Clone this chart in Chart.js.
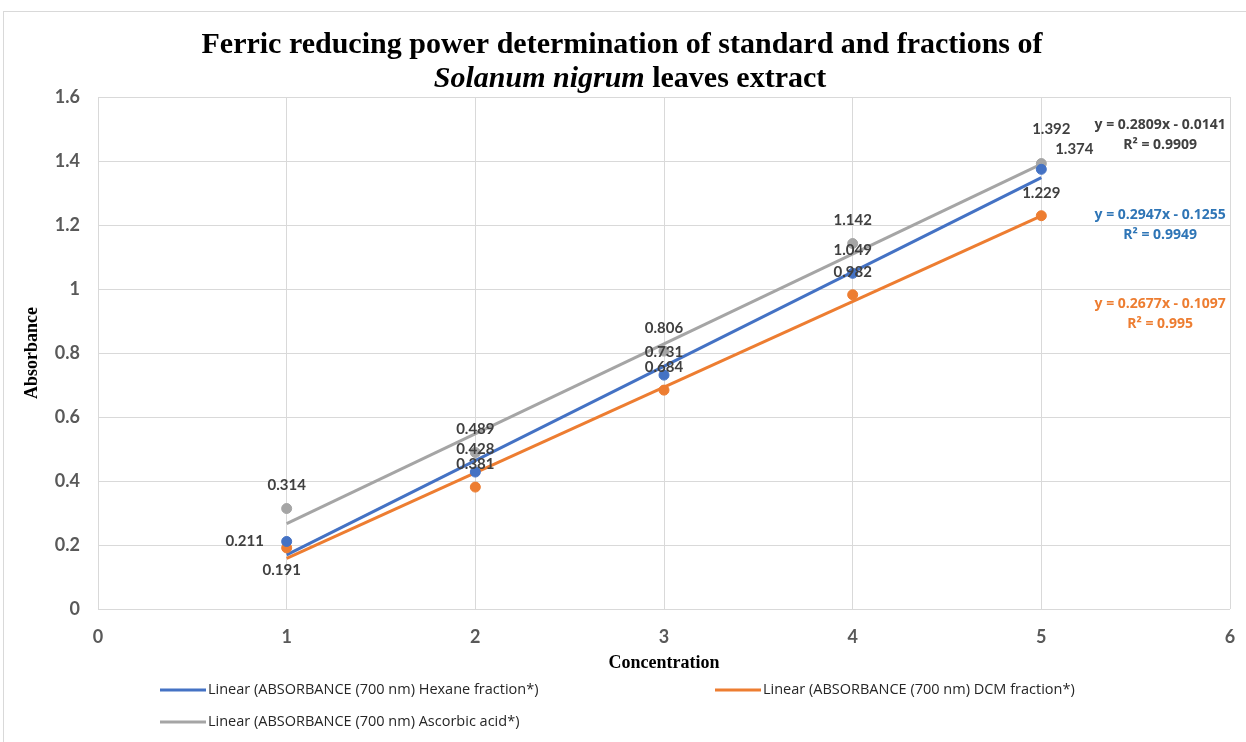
<!DOCTYPE html>
<html>
<head>
<meta charset="utf-8">
<script src="https://cdn.jsdelivr.net/npm/chart.js@4.4.1/dist/chart.umd.min.js"></script>
<style>
  body { margin: 0; background: #fff; }
  #wrap { width: 1246px; height: 742px; }
</style>
</head>
<body>
<div id="wrap"><canvas id="ferricChart" width="1246" height="742"></canvas></div>
<script>
// Data
const concentrations = [1, 2, 3, 4, 5];
const hexaneAbs = [0.211, 0.428, 0.731, 1.049, 1.374];
const dcmAbs = [0.191, 0.381, 0.684, 0.982, 1.229];
const ascorbicAbs = [0.314, 0.489, 0.806, 1.142, 1.392];

// Trendline equations as printed on the chart: [slope, intercept, R2]
const hexaneFit = [0.2947, -0.1255, 0.9949];
const dcmFit = [0.2677, -0.1097, 0.995];
const ascorbicFit = [0.2809, -0.0141, 0.9909];

const xTicks = [0, 1, 2, 3, 4, 5, 6];
const yTicks = [0, 0.2, 0.4, 0.6, 0.8, 1, 1.2, 1.4, 1.6];

const legendLabels = [
  'Linear (ABSORBANCE (700 nm) Hexane fraction*)',
  'Linear (ABSORBANCE (700 nm) DCM fraction*)',
  'Linear (ABSORBANCE (700 nm) Ascorbic acid*)'
];

const BLUE = '#4472C4';
const ORANGE = '#ED7D31';
const GRAY = '#A5A5A5';
const TEXT = '#404040';
const TICK_FONT = { family: 'Lato, "Open Sans", sans-serif', size: 18, weight: 'bold' };

function points(values) {
  return values.map((v, i) => ({ x: concentrations[i], y: v }));
}

function trend(fit) {
  const first = concentrations[0];
  const last = concentrations[concentrations.length - 1];
  return [
    { x: first, y: fit[0] * first + fit[1] },
    { x: last, y: fit[0] * last + fit[1] }
  ];
}

function fmtEq(fit) {
  const sign = fit[1] < 0 ? ' - ' : ' + ';
  return 'y = ' + fit[0] + 'x' + sign + Math.abs(fit[1]);
}

// label placement tweaks (dx, dy from the point), default is straight above
const labelNudge = {
  '0-0': [-42, 0],    // hexane 0.211
  '1-0': [-5, 22],    // dcm 0.191
  '2-4': [10, -34],   // ascorbic 1.392
  '0-4': [33, -20]    // hexane 1.374
};

const pointSets = [hexaneAbs, dcmAbs, ascorbicAbs];
const seriesColors = [BLUE, ORANGE, GRAY];

const frame = {
  id: 'frame',
  beforeDraw(chart) {
    const ctx = chart.ctx;
    ctx.save();
    ctx.fillStyle = '#fff';
    ctx.fillRect(0, 0, chart.width, chart.height);
    ctx.strokeStyle = '#d9d9d9';
    ctx.lineWidth = 1;
    ctx.strokeRect(3.5, 11.5, 1300, 800);
    ctx.restore();
  }
};

const titlePlugin = {
  id: 'twoLineTitle',
  afterDraw(chart) {
    const ctx = chart.ctx;
    const serif = '"Liberation Serif", "Times New Roman", serif';
    ctx.save();
    ctx.fillStyle = '#000';
    ctx.textBaseline = 'middle';
    ctx.font = 'bold 30px ' + serif;
    ctx.textAlign = 'center';
    ctx.fillText('Ferric reducing power determination of standard and fractions of', 622, 45);

    const italicPart = 'Solanum nigrum';
    const rest = ' leaves extract';
    ctx.font = 'italic bold 30px ' + serif;
    const w1 = ctx.measureText(italicPart).width;
    ctx.font = 'bold 30px ' + serif;
    const w2 = ctx.measureText(rest).width;
    const x = 630 - (w1 + w2) / 2;
    ctx.textAlign = 'left';
    ctx.font = 'italic bold 30px ' + serif;
    ctx.fillText(italicPart, x, 79);
    ctx.font = 'bold 30px ' + serif;
    ctx.fillText(rest, x + w1, 79);
    ctx.restore();
  }
};

const pointLabels = {
  id: 'pointLabels',
  afterDatasetsDraw(chart) {
    const ctx = chart.ctx;
    const xs = chart.scales.x, ys = chart.scales.y;
    ctx.save();
    ctx.font = 'bold 15px Lato, "Open Sans", sans-serif';
    ctx.fillStyle = TEXT;
    ctx.textAlign = 'center';
    ctx.textBaseline = 'middle';
    pointSets.forEach((vals, s) => {
      vals.forEach((v, i) => {
        const nudge = labelNudge[s + '-' + i] || [0, -23];
        const px = xs.getPixelForValue(concentrations[i]) + nudge[0];
        const py = ys.getPixelForValue(v) + nudge[1];
        ctx.fillText(String(v), px, py);
      });
    });

    // trendline equations
    const eqs = [
      { fit: ascorbicFit, color: TEXT, x: 5.63, y: 1.512 },
      { fit: hexaneFit, color: '#2E75B6', x: 5.63, y: 1.231 },
      { fit: dcmFit, color: ORANGE, x: 5.63, y: 0.953 }
    ];
    ctx.font = 'bold 14px "Open Sans", Lato, sans-serif';
    eqs.forEach(e => {
      const px = xs.getPixelForValue(e.x);
      const py = ys.getPixelForValue(e.y);
      ctx.fillStyle = e.color;
      ctx.fillText(fmtEq(e.fit), px, py);
      ctx.fillText('R\u00B2 = ' + e.fit[2], px, py + 20);
    });
    ctx.restore();
  }
};

const customLegend = {
  id: 'customLegend',
  afterDraw(chart) {
    const ctx = chart.ctx;
    const spots = [[160, 690], [715, 690], [160, 722]];
    ctx.save();
    ctx.font = '14.5px "Open Sans", Lato, sans-serif';
    ctx.textBaseline = 'middle';
    ctx.textAlign = 'left';
    legendLabels.forEach((lbl, i) => {
      const [x, y] = spots[i];
      ctx.strokeStyle = seriesColors[i];
      ctx.lineWidth = 3;
      ctx.beginPath();
      ctx.moveTo(x, y);
      ctx.lineTo(x + 46, y);
      ctx.stroke();
      ctx.fillStyle = '#262626';
      ctx.fillText(lbl, x + 48, y);
    });
    ctx.restore();
  }
};

const ctx = document.getElementById('ferricChart').getContext('2d');
new Chart(ctx, {
  type: 'scatter',
  data: {
    datasets: [
      { label: legendLabels[0], data: trend(hexaneFit), showLine: true, borderColor: BLUE, borderWidth: 3, pointRadius: 0, order: 2 },
      { label: legendLabels[1], data: trend(dcmFit), showLine: true, borderColor: ORANGE, borderWidth: 3, pointRadius: 0, order: 2 },
      { label: legendLabels[2], data: trend(ascorbicFit), showLine: true, borderColor: GRAY, borderWidth: 3, pointRadius: 0, order: 2 },
      { label: 'Hexane', data: points(hexaneAbs), backgroundColor: BLUE, borderColor: BLUE, pointRadius: 5, order: 1 },
      { label: 'DCM', data: points(dcmAbs), backgroundColor: ORANGE, borderColor: ORANGE, pointRadius: 5, order: 1 },
      { label: 'Ascorbic', data: points(ascorbicAbs), backgroundColor: GRAY, borderColor: GRAY, pointRadius: 5, order: 1 }
    ]
  },
  options: {
    responsive: false,
    animation: false,
    layout: { padding: { top: 97, right: 0, bottom: 67, left: 0 } },
    plugins: {
      legend: { display: false },
      title: { display: false },
      tooltip: { enabled: false }
    },
    scales: {
      x: {
        type: 'linear',
        min: xTicks[0],
        max: xTicks[xTicks.length - 1],
        afterBuildTicks: (scale) => { scale.ticks = xTicks.map(v => ({ value: v })); },
        afterFit: (scale) => { scale.height = 66; scale.paddingRight = 16; scale.paddingLeft = 0; },
        grid: { color: '#d9d9d9', drawTicks: false },
        border: { display: false },
        ticks: { padding: 17, color: '#595959', font: TICK_FONT, callback: (v) => String(v) },
        title: { display: true, text: 'Concentration', color: '#000', padding: { top: 0, bottom: 1 },
          font: { family: '"Liberation Serif", "Times New Roman", serif', size: 18, weight: 'bold' } }
      },
      y: {
        min: yTicks[0],
        max: yTicks[yTicks.length - 1],
        afterBuildTicks: (scale) => { scale.ticks = yTicks.map(v => ({ value: v })); },
        afterFit: (scale) => { scale.width = 98; },
        grid: { color: '#d9d9d9', drawTicks: false },
        border: { display: false },
        ticks: { padding: 18, color: '#595959', font: TICK_FONT, callback: (v) => String(v) },
        title: { display: true, text: 'Absorbance', color: '#000', padding: { top: 22, bottom: 0 },
          font: { family: '"Liberation Serif", "Times New Roman", serif', size: 18, weight: 'bold' } }
      }
    }
  },
  plugins: [frame, titlePlugin, pointLabels, customLegend]
});
</script>
</body>
</html>
